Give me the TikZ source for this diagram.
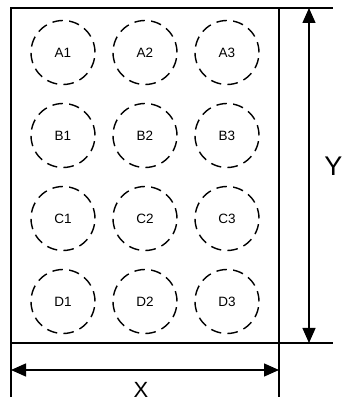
\documentclass[tikz,border=0pt]{standalone}
\usepackage{fontspec}
\setmainfont{Liberation Sans}
\usetikzlibrary{arrows.meta}
\tikzset{
  well/.style={circle, draw, dash pattern=on 10.5pt off 6.3pt, line width=1.4pt, minimum size=64pt, inner sep=0pt, font=\fontsize{13.5}{15}\selectfont},
  dim/.style={{Triangle[length=15pt,width=13pt]}-{Triangle[length=15pt,width=13pt]}, line width=1.3pt},
  ext/.style={line width=1.3pt}
}
\begin{document}
\begin{tikzpicture}[x=1pt,y=1pt]
\useasboundingbox (0,0) rectangle (343,405);

\draw [line width=2.8pt] (11,62) coordinate (bl) rectangle (279,397) coordinate (tr);
\coordinate (br) at (279,62);
\coordinate (tl) at (11,397);

\node[well] (a1) at (63,352.5) {A1};
\node[well] (a2) at (145,352.5) {A2};
\node[well] (a3) at (227,352.5) {A3};
\node[well] (b1) at (63,269.5) {B1};
\node[well] (b2) at (145,269.5) {B2};
\node[well] (b3) at (227,269.5) {B3};
\node[well] (c1) at (63,186.5) {C1};
\node[well] (c2) at (145,186.5) {C2};
\node[well] (c3) at (227,186.5) {C3};
\node[well] (d1) at (63,103.5) {D1};
\node[well] (d2) at (145,103.5) {D2};
\node[well] (d3) at (227,103.5) {D3};

% dimension Y
\coordinate (ytop) at (333,397);
\coordinate (ybot) at (333,62);
\draw [ext] (tr) -- (ytop);
\draw [ext] (br) -- (ybot);
\draw [dim] (309,397) node (v1) {} -- (309,62) node (v2) {};
\node[inner sep=0pt] (ylab) at (333.5,239) {\fontsize{27}{28}\selectfont Y};

% dimension X
\coordinate (xl) at (11,8);
\coordinate (xr) at (279,8);
\draw [ext] (bl) -- (xl);
\draw [ext] (br) -- (xr);
\draw [dim] (11,35) node (v3) {} -- (279,35) node (v4) {};
\node (xlab) at (141,15) {\fontsize{22}{24}\selectfont X};
\end{tikzpicture}
\end{document}
